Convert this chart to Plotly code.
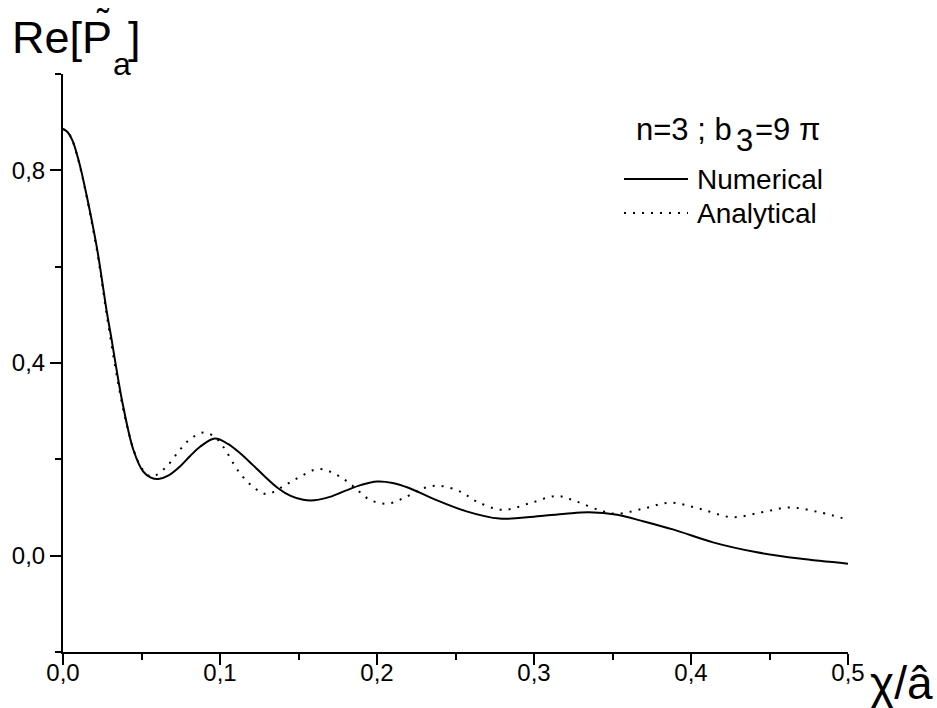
import plotly.graph_objects as go

# ---- data ----
num_x = [0.000, 0.003, 0.006, 0.0095, 0.013, 0.0215, 0.028, 0.031, 0.035, 0.0384, 0.0448,
         0.051, 0.056, 0.0607, 0.067, 0.0745, 0.081, 0.0873, 0.0968, 0.105, 0.113, 0.121,
         0.129, 0.137, 0.145, 0.153, 0.160, 0.170, 0.180, 0.190, 0.200, 0.210, 0.220,
         0.236, 0.257, 0.278, 0.300, 0.320, 0.335, 0.353, 0.370, 0.389, 0.414, 0.442,
         0.469, 0.500]
num_y = [0.886, 0.879, 0.862, 0.826, 0.779, 0.641, 0.504, 0.448, 0.369, 0.309, 0.220,
         0.175, 0.162, 0.159, 0.166, 0.185, 0.207, 0.226, 0.243, 0.232, 0.212, 0.188,
         0.163, 0.140, 0.124, 0.116, 0.115, 0.122, 0.135, 0.147, 0.154, 0.151, 0.141,
         0.118, 0.092, 0.077, 0.081, 0.087, 0.090, 0.085, 0.071, 0.054, 0.0276, 0.007,
         -0.006, -0.0166]

ana_x = [0.000, 0.003, 0.006, 0.0095, 0.013, 0.0215, 0.028, 0.035, 0.040, 0.046, 0.051,
         0.0565, 0.066, 0.074, 0.081, 0.0894, 0.096, 0.102, 0.1127, 0.1234, 0.130, 0.140,
         0.151, 0.163, 0.1743, 0.185, 0.1955, 0.207, 0.219, 0.2295, 0.240, 0.253, 0.2635,
         0.280, 0.2975, 0.3145, 0.327, 0.342, 0.3527, 0.370, 0.3866, 0.405, 0.426, 0.445,
         0.463, 0.482, 0.500]
ana_y = [0.886, 0.879, 0.862, 0.824, 0.777, 0.636, 0.497, 0.360, 0.280, 0.210, 0.178,
         0.164, 0.185, 0.218, 0.242, 0.2556, 0.248, 0.2265, 0.171, 0.137, 0.128, 0.1436,
         0.164, 0.180, 0.168, 0.1436, 0.116, 0.108, 0.123, 0.140, 0.145, 0.133, 0.1125,
         0.095, 0.109, 0.124, 0.1125, 0.094, 0.087, 0.098, 0.110, 0.098, 0.080, 0.090,
         0.100, 0.090, 0.0746]

x_ticks = [0.0, 0.1, 0.2, 0.3, 0.4, 0.5]
x_ticktext = ["0,0", "0,1", "0,2", "0,3", "0,4", "0,5"]
y_ticks = [0.0, 0.4, 0.8]
y_ticktext = ["0,0", "0,4", "0,8"]

series_names = ["Numerical", "Analytical"]

FONT = "Liberation Sans, Arial, sans-serif"

W, H = 937, 708
ml, mr, mt, mb = 63, 89, 74, 56
pw, ph = W - ml - mr, H - mt - mb


def px(xp):
    return (xp - ml) / pw


def py(yp):
    return (H - mb - yp) / ph


solid = dict(color="black", width=2)
dotted = dict(color="black", width=2, dash="2px,7px")

fig = go.Figure()
fig.add_trace(go.Scatter(x=num_x, y=num_y, mode="lines", name=series_names[0],
                         showlegend=False,
                         line=dict(**solid, shape="spline", smoothing=1.0)))
fig.add_trace(go.Scatter(x=ana_x, y=ana_y, mode="lines", name=series_names[1],
                         showlegend=False,
                         line=dict(**dotted, shape="spline", smoothing=1.0)))

fig.update_layout(
    width=W, height=H,
    margin=dict(l=ml, r=mr, t=mt, b=mb),
    plot_bgcolor="white", paper_bgcolor="white",
    font=dict(family=FONT, color="black", size=24),
    showlegend=False,
    xaxis=dict(range=[0, 0.5], tickvals=x_ticks, ticktext=x_ticktext,
               ticks="outside", ticklen=11, tickwidth=2, tickcolor="black",
               ticklabelstandoff=-13,
               showline=True, linewidth=2, linecolor="black",
               showgrid=False, zeroline=False,
               minor=dict(dtick=0.05, tick0=0, ticks="outside", ticklen=6, tickwidth=2,
                          tickcolor="black", showgrid=False),
               tickfont=dict(size=24, family=FONT)),
    yaxis=dict(range=[-0.2, 1.0], tickvals=y_ticks, ticktext=y_ticktext,
               ticks="outside", ticklen=11, tickwidth=2, tickcolor="black",
               showline=True, linewidth=2, linecolor="black",
               showgrid=False, zeroline=False,
               minor=dict(dtick=0.2, tick0=0, ticks="outside", ticklen=6, tickwidth=2,
                          tickcolor="black", showgrid=False),
               tickfont=dict(size=24, family=FONT)),
)


def text(t, x, y, size, xanchor="left", yanchor="middle", family=FONT):
    fig.add_annotation(text=t, xref="paper", yref="paper", x=px(x), y=py(y),
                       xanchor=xanchor, yanchor=yanchor, showarrow=False,
                       font=dict(size=size, family=family, color="black"))


# y-axis title  Re[P~_a]
text("Re[P", 10, 10, 45, yanchor="top")
text("\u02dc", 103, 0, 36, xanchor="center", yanchor="top")
text("a", 111, 44, 32, yanchor="top")
text("]", 126, 10, 45, yanchor="top")

# x-axis title
text("\u03c7/\u00e2", 868, 655, 46, yanchor="top")

# legend header  n=3 ; b_3=9 pi
text("n=3 ; b", 634, 129, 31)
text("3", 734, 140, 31)
text("=9 \u03c0", 753, 129, 31)

# legend entries
for name, style, yl in [(series_names[0], solid, 179), (series_names[1], dotted, 213)]:
    fig.add_shape(type="line", xref="paper", yref="paper",
                  x0=px(624), x1=px(688), y0=py(yl), y1=py(yl), line=style)
    text(name, 695, yl, 28)

fig.write_html("out.html")
